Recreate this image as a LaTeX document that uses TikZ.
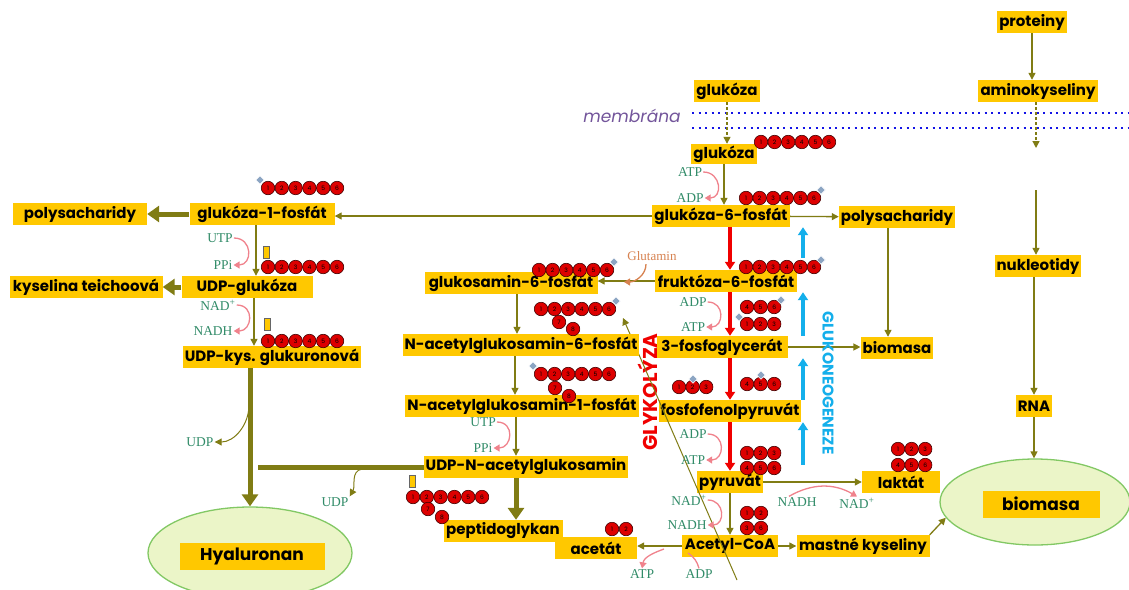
\documentclass[tikz,border=0pt]{standalone}
\usepackage{fontspec}
\setsansfont{Poppins}
\newfontfamily\labfont{Liberation Serif}
\usetikzlibrary{arrows.meta,positioning,shapes.geometric,calc}
\definecolor{boxY}{RGB}{255,200,0}
\definecolor{oliv}{RGB}{128,124,20}
\definecolor{glyR}{RGB}{240,0,0}
\definecolor{gngB}{RGB}{20,175,235}
\definecolor{labG}{RGB}{50,140,105}
\definecolor{pinkA}{RGB}{240,130,140}
\definecolor{gluO}{RGB}{215,130,80}
\definecolor{memP}{RGB}{115,85,155}
\definecolor{memB}{RGB}{20,20,230}
\definecolor{ellG}{RGB}{235,245,200}
\definecolor{ellE}{RGB}{130,200,100}
\definecolor{phosB}{RGB}{140,165,195}

\begin{document}
\begin{tikzpicture}[x=1pt, y=-1pt,
  b/.style={rectangle, fill=boxY, inner xsep=2pt, inner ysep=0pt, minimum height=22,
    font=\sffamily\bfseries\fontsize{15}{17}\selectfont},
  s/.style={font=\labfont\fontsize{13.5}{13.5}\selectfont, text=labG, inner sep=1pt},
  cb/.style={circle, draw=black!75!red, fill=glyR!92!black, line width=0.6pt, minimum size=13.5,
    inner sep=0pt, font=\sffamily\fontsize{6}{6}\selectfont},
  ph/.style={rectangle, rotate=45, fill=phosB, draw=white, line width=0.5pt, minimum size=6, inner sep=0pt},
  mk/.style={rectangle, fill=boxY, draw=black!60, line width=0.5pt, minimum width=6, minimum height=12, inner sep=0pt},
  fl/.style={draw=oliv, line width=1.3pt, -{Triangle[length=7pt,width=7pt]}},
  thk/.style={draw=oliv, line width=5pt, -{Triangle[length=12pt,width=16pt]}},
  gly/.style={draw=glyR, line width=3.5pt, -{Triangle[length=8pt,width=10pt]}},
  gng/.style={draw=gngB, line width=4pt, -{Triangle[length=8pt,width=10pt]}},
  co/.style={draw=pinkA, line width=1.3pt, -{Triangle[length=6pt,width=7pt]}},
  ell/.style={ellipse, draw=ellE, fill=ellG, line width=1.3pt}]
  \fill[white] (0,0) rectangle (1129,589);
  \useasboundingbox (0,0) rectangle (1129,589);

  % membrane
  \node[font=\sffamily\itshape\fontsize{17}{17}\selectfont, text=memP] (mem) at (632,116) {membrána};
  \draw[memB, line width=2pt, dash pattern=on 2pt off 4.5pt] (692,113) -- (1129,113);
  \draw[memB, line width=2pt, dash pattern=on 2pt off 4.5pt] (692,128) -- (1129,128);

  % right column
  \node[b, minimum width=70] (prot) at (1032,22) {proteiny};
  \node[b, minimum width=120] (amino) at (1038,91) {aminokyseliny};
  \coordinate (aaEnd) at (1036,148);
  \coordinate (nuStart) at (1036,190);
  \node[b, minimum width=84] (nukl) at (1038,266) {nukleotidy};
  \node[b, minimum width=35] (rna) at (1034,406) {RNA};
  \node[ell, minimum width=190, minimum height=86] (biomE) at (1035,502) {};
  \node[b, minimum width=117, minimum height=27, font=\sffamily\bfseries\fontsize{17}{19}\selectfont] (biom) at (1041,504) {biomasa};
  \draw[fl] (prot.south) -- (prot.south |- amino.north);
  \draw[fl, densely dashed] (amino.south -| aaEnd) -- (aaEnd);
  \draw[fl] (nuStart) -- (nuStart |- nukl.north);
  \draw[fl] (rna.north |- nukl.south) -- (rna.north);
  \draw[fl] (rna.south) -- (rna.south |- biomE.north);

  % glycolysis
  \node[b, minimum width=65] (glc0) at (727,91) {glukóza};
  \node[b, minimum width=65, minimum height=20] (glc) at (724,154) {glukóza};
  \node[b, minimum width=138] (g6p) at (721,216) {glukóza-6-fosfát};
  \node[b, minimum width=115] (polyR) at (897,217) {polysacharidy};
  \node[b, minimum width=71] (biomR) at (897,348) {biomasa};
  \node[b, minimum width=142] (f6p) at (726,281) {fruktóza-6-fosfát};
  \node[b, minimum width=131] (pg3) at (722,347) {3-fosfoglycerát};
  \node[b, minimum width=140] (pep) at (730,411) {fosfofenolpyruvát};
  \node[b, minimum width=60] (pyr) at (730,482) {pyruvát};
  \node[b, minimum width=78] (lak) at (901,482) {laktát};
  \node[b, minimum width=96] (acoa) at (730,546) {Acetyl-CoA};
  \node[b, minimum width=133] (mast) at (863,546) {mastné kyseliny};
  \node[b, minimum width=82] (acet) at (596,548) {acetát};
  \draw[fl, densely dashed] (glc0.south) -- (glc0.south |- glc.north);
  \draw[fl] (glc.south) -- (glc.south |- g6p.north);
  \draw[fl] (g6p) -- (polyR);
  \draw[fl] ([xshift=-9pt]polyR.south) -- ([xshift=-9pt]biomR.north);
  \draw[fl] (pg3.east) -- (pg3.east -| biomR.west);
  \draw[fl] (pyr.east) -- (lak.west);
  \draw[fl] (pyr.south) -- (acoa.north);
  \draw[fl] (acoa.east) -- (mast.west);
  \draw[fl] (acoa.west) -- (acoa.west -| acet.east);
  \draw[fl] (mast.north east) -- (biomE.190);
  \draw[gly] (g6p.south -| pyr) -- (f6p.north -| pyr);
  \draw[gly] (f6p.south -| pyr) -- (pg3.north -| pyr);
  \draw[gly] (pg3.south -| pyr) -- (pep.north -| pyr);
  \draw[gly] (pep.south -| pyr) -- (pyr.north);
  \coordinate (gx) at (803,0);
  \draw[gng] ($(f6p.north -| gx)+(0,-12)$) -- (g6p.south -| gx);
  \draw[gng] (pg3.north -| gx) -- (f6p.south -| gx);
  \draw[gng] (pep.north -| gx) -- (pg3.south -| gx);
  \draw[gng] ($(pyr.north -| gx)+(0,-6)$) -- (pep.south -| gx);
  \node[rotate=-90, text=gngB, font=\sffamily\bfseries\fontsize{15.5}{15.5}\selectfont] (gngT) at (828,383) {GLUKONEOGENEZE};
  \node[rotate=90, text=glyR, font=\sffamily\bfseries\fontsize{20}{20}\selectfont] (glyT) at (648,392) {GLYKOLÝZA};
  \coordinate (dgA) at (737,580);
  \coordinate (dgB) at (623,318);
  \draw[fl, line width=1pt] (dgA) -- (dgB);

  \node[s] (atpA) at (690,172) {ATP};
  \node[s] (adpA) at (690,198) {ADP};
  \draw[co] (atpA.east) to[out=0,in=0,looseness=1.8] (adpA.east);
  \node[s] (adpB) at (693,302) {ADP};
  \node[s] (atpB) at (693,327) {ATP};
  \draw[co] (adpB.east) to[out=0,in=0,looseness=1.8] (atpB.east);
  \node[s] (adpC) at (693,434) {ADP};
  \node[s] (atpC) at (693,460) {ATP};
  \draw[co] (adpC.east) to[out=0,in=0,looseness=1.8] (atpC.east);
  \node[s] (nadP) at (689,500) {NAD\textsuperscript{+}};
  \node[s] (nadhP) at (687,525) {NADH};
  \draw[co] (nadP.east) to[out=0,in=0,looseness=1.8] (nadhP.east);
  \node[s] (nadhL) at (797,502) {NADH};
  \node[s] (nadL) at (857,503) {NAD\textsuperscript{+}};
  \draw[co] ([xshift=-8pt]nadhL.north) to[bend left=30] (nadL.north);
  \node[s] (atpD) at (642,574) {ATP};
  \node[s] (adpD) at (699,574) {ADP};
  \coordinate (acX) at (664,549);
  \coordinate (acY) at (688,553);
  \draw[co] (acX) to[out=200,in=80] (atpD.north);
  \draw[pinkA, line width=1.3pt] (adpD.north) to[bend right=20] (acY);

  % glucosamine branch
  \node[b, minimum width=173] (gn6p) at (511,283) {glukosamin-6-fosfát};
  \node[b, minimum width=227] (nag6) at (521,345) {N-acetylglukosamin-6-fosfát};
  \node[b, minimum width=229] (nag1) at (522,406) {N-acetylglukosamin-1-fosfát};
  \node[b, minimum width=203] (udpn) at (526,467) {UDP-N-acetylglukosamin};
  \node[b, minimum width=119] (pept) at (503,531) {peptidoglykan};
  \draw[fl] (f6p.west) -- (f6p.west -| gn6p.east);
  \draw[fl] ([xshift=6pt]gn6p.south) -- ([xshift=6pt]gn6p.south |- nag6.north);
  \draw[fl] ([xshift=-6pt]nag6.south) -- ([xshift=-6pt]nag6.south |- nag1.north);
  \draw[fl] ([xshift=-6pt]nag1.south) -- ([xshift=-6pt]nag1.south |- udpn.north);
  \draw[thk] ([xshift=-10pt]udpn.south) -- ([xshift=-10pt]udpn.south |- pept.north);
  \node[font=\labfont\fontsize{13}{13}\selectfont, text=gluO] (glut) at (652,256) {Glutamin};
  \coordinate (gluEnd) at (624,282);
  \draw[gluO, line width=1.3pt, -{Triangle[length=6pt,width=7pt]}] ([xshift=-6pt]glut.south) to[out=-90,in=0] (gluEnd);
  \node[s] (utpB) at (483,422) {UTP};
  \node[s] (ppiB) at (483,448) {PPi};
  \draw[co] (utpB.east) to[out=0,in=0,looseness=1.8] (ppiB.east);

  % glucose-1-phosphate branch
  \node[b, minimum width=145] (g1p) at (262,214) {glukóza-1-fosfát};
  \node[b, minimum width=134] (polyL) at (80,214) {polysacharidy};
  \node[b, minimum width=131] (udpg) at (247,287) {UDP-glukóza};
  \node[b, minimum width=153] (teich) at (86,287) {kyselina teichoová};
  \node[b, minimum width=175] (udpk) at (272,357) {UDP-kys. glukuronová};
  \node[ell, minimum width=204, minimum height=92] (hyE) at (250,553) {};
  \node[b, minimum width=145, minimum height=27, font=\sffamily\bfseries\fontsize{17}{19}\selectfont] (hyal) at (252,556) {Hyaluronan};
  \draw[fl] (g6p.west) -- (g6p.west -| g1p.east);
  \draw[thk] (g1p.west) -- (g1p.west -| polyL.east);
  \draw[fl] ([xshift=-6pt]g1p.south) -- ([xshift=-6pt]g1p.south |- udpg.north);
  \draw[thk] (udpg.west) -- (udpg.west -| teich.east);
  \draw[fl] ([xshift=7pt]udpg.south) -- ([xshift=7pt]udpg.south |- udpk.north);
  \draw[thk] ([xshift=-22pt]udpk.south) -- ([xshift=-22pt]udpk.south |- hyE.north);
  \coordinate (jn) at (258,466);
  \draw[oliv, line width=5pt] (udpn.west) -- (udpn.west -| jn);
  \node[s] (utpA) at (220,238) {UTP};
  \node[s] (ppiA) at (223,265) {PPi};
  \draw[co] (utpA.east) to[out=0,in=0,looseness=1.8] (ppiA.east);
  \node[s] (nadA) at (218,305) {NAD\textsuperscript{+}};
  \node[s] (nadhA) at (213,331) {NADH};
  \draw[co] (nadA.east) to[out=0,in=0,looseness=1.8] (nadhA.east);
  \node[s] (udpX) at (200,442) {UDP};
  \node[s] (udpY) at (335,502) {UDP};
  \coordinate (brA) at (249,405);
  \coordinate (brB) at (362,469);
  \draw[fl, line width=1pt] (brA) to[out=-90,in=0] (udpX.east);
  \draw[fl, line width=1pt] (brB) to[out=190,in=60] (udpY.north east);

  % carbon chains
  \foreach \i in {1,...,6} \node[cb] (cA\i) at ({761+13.6*(\i-1)},142) {\i};
  \foreach \i in {1,...,6} \node[cb] (cB\i) at ({746+13.6*(\i-1)},198) {\i};
  \node[ph] (pB) at (821,190) {};
  \foreach \i in {1,...,6} \node[cb] (cC\i) at ({746+13.6*(\i-1)},267) {\i};
  \node[ph] (pC) at (821,260) {};
  \foreach \i [count=\k] in {4,5,6} \node[cb] (cD\i) at ({747+13.6*(\k-1)},307) {\i};
  \node[ph] (pD) at (781,300) {};
  \foreach \i in {1,2,3} \node[cb] (cE\i) at ({747+13.6*(\i-1)},324) {\i};
  \node[ph] (pE) at (739,317) {};
  \foreach \i in {1,2,3} \node[cb] (cF\i) at ({679+13.6*(\i-1)},387) {\i};
  \node[ph] (pF) at (693,379) {};
  \foreach \i [count=\k] in {4,5,6} \node[cb] (cG\i) at ({747+13.6*(\k-1)},384) {\i};
  \node[ph] (pG) at (761,375) {};
  \foreach \i in {1,2,3} \node[cb] (cH\i) at ({747+13.6*(\i-1)},453) {\i};
  \foreach \i [count=\k] in {4,5,6} \node[cb] (cI\i) at ({747+13.6*(\k-1)},468) {\i};
  \node[cb] (cJ1) at (747,513) {1};
  \node[cb] (cJ2) at (761,513) {2};
  \node[cb] (cJ3) at (747,528) {3};
  \node[cb] (cJ6) at (761,528) {6};
  \foreach \i in {1,2,3} \node[cb] (cK\i) at ({898+13.6*(\i-1)},449) {\i};
  \foreach \i [count=\k] in {4,5,6} \node[cb] (cKb\i) at ({898+13.6*(\k-1)},465) {\i};
  \node[cb] (cL1) at (612,529) {1};
  \node[cb] (cL2) at (626,529) {2};
  \foreach \i in {1,...,6} \node[cb] (cM\i) at ({539+13.6*(\i-1)},270) {\i};
  \node[ph] (pM) at (614,262) {};
  \foreach \i in {1,...,6} \node[cb] (cN\i) at ({541+13.6*(\i-1)},309) {\i};
  \node[cb] (cN7) at (559,322) {7};
  \node[cb] (cN8) at (573,329) {8};
  \node[ph] (pN) at (616,301) {};
  \foreach \i in {1,...,6} \node[cb] (cO\i) at ({541+13.6*(\i-1)},374) {\i};
  \node[cb] (cO7) at (555,388) {7};
  \node[cb] (cO8) at (569,396) {8};
  \node[ph] (pO) at (533,366) {};
  \foreach \i in {1,...,6} \node[cb] (cP\i) at ({413+13.8*(\i-1)},497) {\i};
  \node[cb] (cP7) at (428,509) {7};
  \node[cb] (cP8) at (442,517) {8};
  \node[mk] (mP) at (412,481) {};
  \foreach \i in {1,...,6} \node[cb] (cQ\i) at ({268+13.8*(\i-1)},188) {\i};
  \node[ph] (pQ) at (260,180) {};
  \foreach \i in {1,...,6} \node[cb] (cR\i) at ({268+13.8*(\i-1)},267) {\i};
  \node[mk] (mR) at (266,252) {};
  \foreach \i in {1,...,6} \node[cb] (cS\i) at ({268+13.8*(\i-1)},341) {\i};
  \node[mk] (mS) at (267,324) {};
\end{tikzpicture}
\end{document}
